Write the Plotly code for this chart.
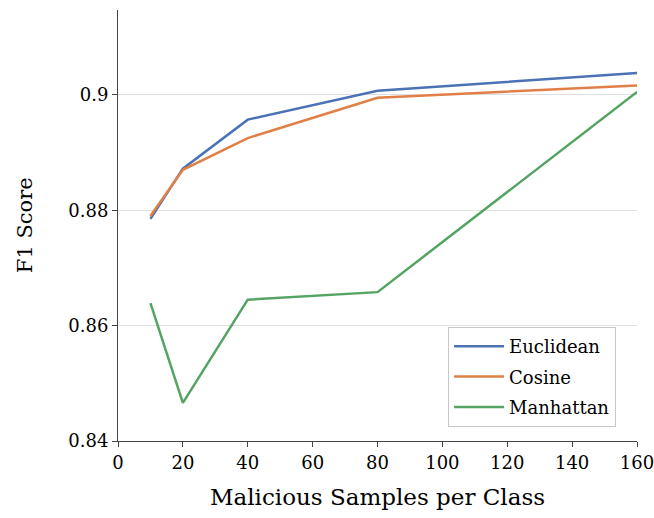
import plotly.graph_objects as go

x_vals = [10, 20, 40, 80, 160]
euclidean = [0.8785, 0.8872, 0.8957, 0.9007, 0.9038]
cosine = [0.8790, 0.8870, 0.8925, 0.8995, 0.9016]
manhattan = [0.8639, 0.8466, 0.8645, 0.8658, 0.9005]
x_ticks = [0, 20, 40, 60, 80, 100, 120, 140, 160]
y_ticks = [0.84, 0.86, 0.88, 0.9]
y_tick_text = ["0.84", "0.86", "0.88", "0.9"]
x_range = [0, 160]
y_range = [0.84, 0.9147]

FONT = "DejaVu Serif"
AX = "#444444"

fig = go.Figure()
for name, vals, col in [("Euclidean", euclidean, "#4a72b5"),
                        ("Cosine", cosine, "#e07f47"),
                        ("Manhattan", manhattan, "#55a464")]:
    fig.add_trace(go.Scatter(x=x_vals, y=vals, mode="lines", name=name,
                             legendgroup=name,
                             line=dict(color=col, width=2.5)))

fig.update_layout(
    width=654, height=518,
    margin=dict(l=118, r=17, t=10, b=77),
    plot_bgcolor="white", paper_bgcolor="white",
    font=dict(family=FONT, color="black", size=18),
    legend=dict(x=0.636, y=0.2645, xanchor="left", yanchor="top",
                bordercolor="#c8c8c8", borderwidth=1, bgcolor="white",
                font=dict(size=18, family=FONT), tracegroupgap=4,
                itemwidth=50),
    xaxis=dict(range=x_range, tickvals=x_ticks,
               showline=True, linecolor=AX, linewidth=1,
               ticks="outside", ticklen=5, tickcolor=AX,
               showgrid=False, zeroline=False, automargin=False,
               ticklabeloverflow="allow",
               tickfont=dict(size=18)),
    yaxis=dict(range=y_range, tickvals=y_ticks, ticktext=y_tick_text,
               showline=True, linecolor=AX, linewidth=1,
               ticks="outside", ticklen=5, tickcolor=AX,
               showgrid=True, gridcolor="#e0e0e0", zeroline=False, automargin=False,
               ticklabeloverflow="allow",
               tickfont=dict(size=18)),
    xaxis2=dict(range=x_range, tickvals=x_ticks, overlaying="x", anchor="y",
                side="bottom", ticks="inside", ticklen=5, tickcolor=AX,
                showticklabels=False, showgrid=False, zeroline=False,
                showline=False, automargin=False),
    yaxis2=dict(range=y_range, tickvals=y_ticks, overlaying="y", anchor="x",
                side="left", ticks="inside", ticklen=5, tickcolor=AX,
                showticklabels=False, showgrid=False, zeroline=False,
                showline=False, automargin=False),
    annotations=[
        dict(text="Malicious Samples per Class", xref="paper", yref="paper",
             x=0.5, y=-0.130, xanchor="center", yanchor="middle",
             showarrow=False, font=dict(size=23, family=FONT)),
        dict(text="F1 Score", xref="paper", yref="paper",
             x=-0.179, y=0.501, xanchor="center", yanchor="middle",
             textangle=-90, showarrow=False, font=dict(size=21, family=FONT)),
    ],
)

fig.write_html("out.html",
               config={"displayModeBar": False},
               post_script="document.body.style.margin='0';document.body.style.overflow='hidden';")
